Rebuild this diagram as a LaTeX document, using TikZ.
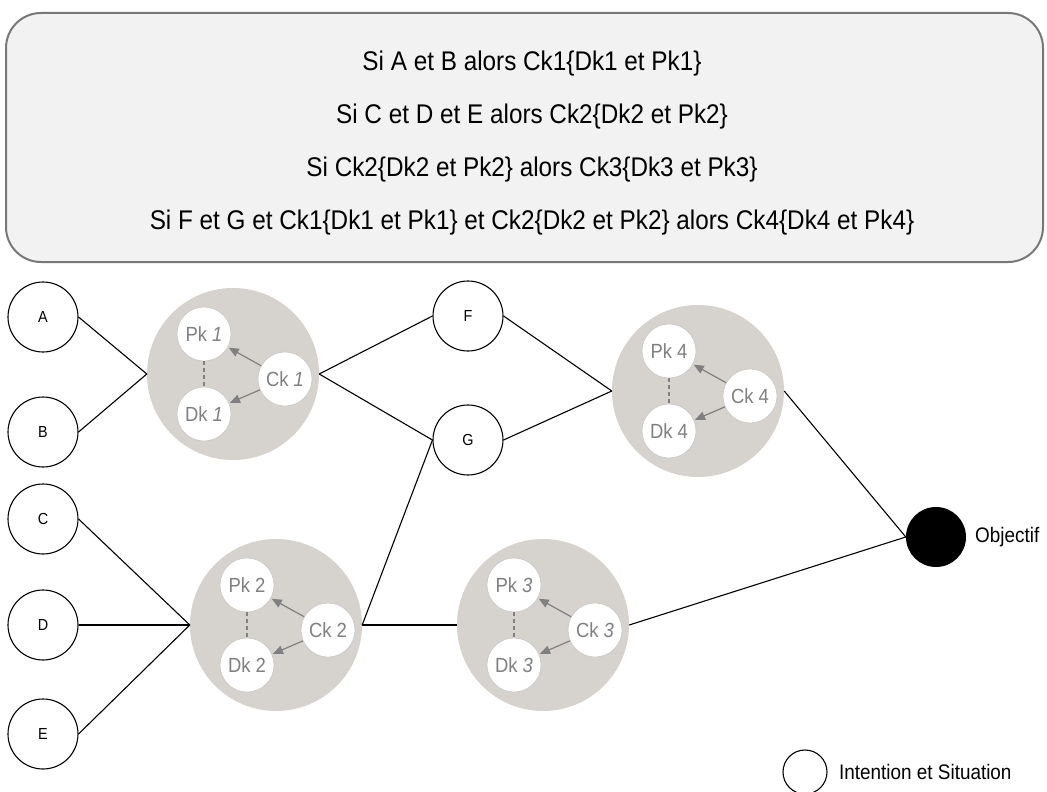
\documentclass[tikz,border=0pt]{standalone}
\usepackage{fontspec}
\setmainfont{Liberation Sans}[FakeStretch=0.9]
\usetikzlibrary{arrows.meta}
\definecolor{kgray}{RGB}{214,210,205}
\definecolor{tgray}{RGB}{128,128,128}
\definecolor{boxfill}{RGB}{242,242,242}
\definecolor{boxline}{RGB}{120,120,120}
\definecolor{ringgray}{RGB}{200,200,200}
\newcommand\kgroup[4]{%
  \node[kbig] (K#1) at (#2,#3) {};
  \node[ksmall] (P#1) at ([shift={(-29,-40)}]K#1) {Pk #4};
  \node[ksmall] (D#1) at ([shift={(-29,40)}]K#1) {Dk #4};
  \node[ksmall] (C#1) at ([shift={(52,5)}]K#1) {Ck #4};
  \draw[kdash] (P#1) -- (D#1);
  \draw[karrow] (C#1) -- (P#1);
  \draw[karrow] (C#1) -- (D#1);
}
\begin{document}
\begin{tikzpicture}[x=1pt,y=-1pt,
  sit/.style={circle,draw=black,line width=1.1pt,fill=white,minimum size=70pt,inner sep=0pt,font=\fontsize{16}{19}\selectfont},
  kbig/.style={circle,fill=kgray,minimum size=172pt,inner sep=0pt},
  ksmall/.style={circle,fill=white,draw=ringgray,line width=0.6pt,minimum size=54pt,inner sep=0pt,text=tgray,font=\fontsize{20.5}{24}\selectfont},
  link/.style={line width=1.1pt,draw=black},
  karrow/.style={draw=tgray,line width=1.2pt,-{Triangle[length=10pt,width=8.5pt]},shorten >=1pt},
  kdash/.style={draw=tgray,line width=1.2pt,dash pattern=on 4pt off 3pt},
  lbl/.style={anchor=west,inner sep=0pt,font=\fontsize{21}{25}\selectfont}
]
\useasboundingbox (0,0) rectangle (1047,792);

\node[draw=boxline, fill=boxfill, line width=2pt, rounded corners=35pt,
      minimum width=1037pt, minimum height=249pt, inner sep=0pt] (box) at (524.5,137.5) {};
\node[align=center, inner sep=0pt, font=\fontsize{27}{53}\selectfont] (rules) at (532,143)
  {Si A et B alors Ck1\{Dk1 et Pk1\}\\
   Si C et D et E alors Ck2\{Dk2 et Pk2\}\\
   Si Ck2\{Dk2 et Pk2\} alors Ck3\{Dk3 et Pk3\}\\
   Si F et G et Ck1\{Dk1 et Pk1\} et Ck2\{Dk2 et Pk2\} alors Ck4\{Dk4 et Pk4\}};

\node[sit] (A) at (43,317) {A};
\node[sit] (B) at (43,432) {B};
\node[sit] (C) at (43,519) {C};
\node[sit] (D) at (43,625) {D};
\node[sit] (E) at (43,734) {E};
\node[sit] (F) at (468,316) {F};
\node[sit] (G) at (468,440) {G};

\kgroup{1}{233}{374}{\textit{1}}
\kgroup{2}{276}{625}{2}
\kgroup{3}{543}{625}{\textit{3}}
\kgroup{4}{698}{391}{4}

\node[circle, fill=black, minimum size=60pt, inner sep=0pt] (obj) at (936,537) {};
\node[lbl] (objtext) at (975,537) {Objectif};

\draw[link] (A.east) -- (K1.west);
\draw[link] (B.east) -- (K1.west);
\draw[link] (K1.east) -- (F.west);
\draw[link] (K1.east) -- (G.west);
\draw[link] (C.east) -- (K2.west);
\draw[link] (D.east) -- (K2.west);
\draw[link] (E.east) -- (K2.west);
\draw[link] (K2.east) -- (G.west);
\draw[link] (K2.east) -- (K3.west);
\draw[link] (F.east) -- (K4.west);
\draw[link] (G.east) -- (K4.west);
\draw[link] (K4.east) -- (obj.west);
\draw[link] (K3.east) -- (obj.west);

\node[circle, draw=black, line width=1.1pt, minimum size=44pt, inner sep=0pt] (leg) at (805,772) {};
\node[lbl] (legtext) at (839,772) {Intention et Situation};
\end{tikzpicture}
\end{document}
